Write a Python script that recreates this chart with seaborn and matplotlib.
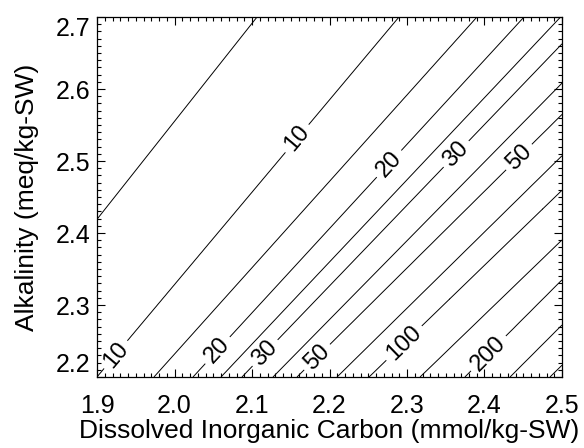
import numpy as np
import matplotlib
matplotlib.use("Agg")
import matplotlib.pyplot as plt
from matplotlib.ticker import MultipleLocator
import seaborn as sns

# ---- data -------------------------------------------------------------
# contour levels and the DIC (mmol/kg-SW) where each contour line crosses
# Alk = 2.2 and Alk = 2.7 (meq/kg-SW)
levels = [5, 10, 15, 20, 25, 30, 40, 50, 75, 100, 150, 200, 300, 400]
dic_at_alk_low = [1.739, 1.900, 1.9735, 2.0239, 2.0600, 2.0871, 2.1271,
                  2.1581, 2.2097, 2.2510, 2.3168, 2.3748, 2.4329, 2.4845]
dic_at_alk_high = [2.1065, 2.2897, 2.3903, 2.4510, 2.4982, 2.5333, 2.5839,
                   2.6270, 2.6820, 2.7310, 2.7980, 2.8390, 2.8970, 2.9580]
alk_low = 2.2
alk_high = 2.7

labeled_levels = [10, 20, 30, 50, 100, 200]
label_positions = [
    (2.1529, 2.5361), (2.2729, 2.5000), (2.3581, 2.5153), (2.4381, 2.5125),
    (1.9168, 2.2375), (2.0523, 2.2403), (2.1103, 2.2403), (2.1774, 2.2347),
    (2.2948, 2.2486), (2.4032, 2.2347),
]

x_ticks = [1.9, 2.0, 2.1, 2.2, 2.3, 2.4, 2.5]
x_tick_labels = ["1.9", "2.0", "2.1", "2.2", "2.3", "2.4", "2.5"]
y_ticks = [2.2, 2.3, 2.4, 2.5, 2.6, 2.7]
y_tick_labels = ["2.2", "2.3", "2.4", "2.5", "2.6", "2.7"]

x_label = "Dissolved Inorganic Carbon (mmol/kg-SW)"
y_label = "Alkalinity (meq/kg-SW)"

# ---- build the field from the read contour positions -------------------
dic = np.linspace(1.9, 2.5, 361)
alk = np.linspace(2.2, 2.7, 301)
D, A = np.meshgrid(dic, alk)
lo = np.array(dic_at_alk_low)
hi = np.array(dic_at_alk_high)
loglev = np.log(np.array(levels, dtype=float))
lnz = np.empty_like(D)
for i, a in enumerate(alk):
    f = (a - alk_low) / (alk_high - alk_low)
    pos = lo + (hi - lo) * f
    s0 = (loglev[1] - loglev[0]) / (pos[1] - pos[0])
    s1 = (loglev[-1] - loglev[-2]) / (pos[-1] - pos[-2])
    xp = np.concatenate([[pos[0] - 1.0], pos, [pos[-1] + 1.0]])
    fp = np.concatenate([[loglev[0] - s0], loglev, [loglev[-1] + s1]])
    lnz[i] = np.interp(dic, xp, fp)
Z = np.exp(lnz)

# ---- plot ---------------------------------------------------------------
sns.set_theme(style="ticks")
plt.rcParams["font.family"] = ["Liberation Sans", "DejaVu Sans"]

fig = plt.figure(figsize=(5.84, 4.48), dpi=100)
ax = fig.add_axes([97 / 584, 1 - 377 / 448, 465 / 584, 360 / 448])

plain_levels = [lv for lv in levels if lv not in labeled_levels]
ax.contour(D, A, Z, levels=plain_levels, colors="black", linewidths=0.7)
cs = ax.contour(D, A, Z, levels=labeled_levels, colors="black", linewidths=0.7)
ax.clabel(cs, manual=label_positions, fmt="%d",
          fontsize=17, inline=True, inline_spacing=5)

ax.set_xlim(1.9, 2.5)
ax.set_ylim(2.2, 2.7)
ax.set_xticks(x_ticks)
ax.set_xticklabels(x_tick_labels)
ax.set_yticks(y_ticks)
ax.set_yticklabels(y_tick_labels)
ax.xaxis.set_minor_locator(MultipleLocator(0.01))
ax.yaxis.set_minor_locator(MultipleLocator(0.01))
ax.tick_params(which="both", direction="in", top=True, right=True,
               width=0.8, color="black", labelsize=18, labelcolor="black")
ax.tick_params(which="major", length=6)
ax.tick_params(which="minor", length=3)
ax.tick_params(axis="x", which="major", pad=12)
ax.tick_params(axis="y", which="major", pad=5)
for sp in ax.spines.values():
    sp.set_linewidth(0.9)
    sp.set_color("black")

ylabs = ax.get_yticklabels()
ylabs[0].set_va("bottom")
ylabs[-1].set_va("top")

ax.set_xlabel(x_label, fontsize=19, labelpad=1, color="black")
ax.set_ylabel(y_label, fontsize=19, labelpad=12, color="black")

fig.savefig("out.png", dpi=100, facecolor="white")
